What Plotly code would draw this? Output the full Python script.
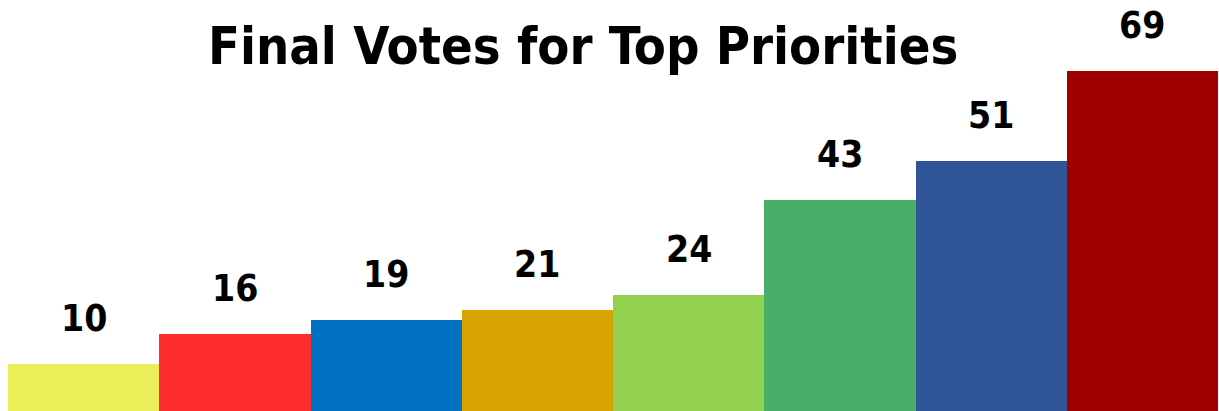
import plotly.graph_objects as go

categories = ["P1", "P2", "P3", "P4", "P5", "P6", "P7", "P8"]
votes = [10, 16, 19, 21, 24, 43, 51, 69]
colors = ["#EAEE58", "#FE2D2D", "#0070C0", "#D6A300", "#92D050", "#4BAE68", "#2F5597", "#A00000"]
title_text = "Final Votes for Top Priorities"

FONT = "DejaVu Sans Condensed, sans-serif"

fig = go.Figure()
fig.add_trace(go.Bar(
    x=categories, y=votes,
    marker=dict(color=colors, line=dict(width=0)),
    hoverinfo="skip",
))

for c, v in zip(categories, votes):
    fig.add_annotation(
        x=c, y=v, xref="x", yref="y",
        text=f"<b>{v}</b>", showarrow=False,
        yanchor="bottom", yshift=22,
        font=dict(family=FONT, size=37, color="#000000"),
    )

fig.add_annotation(
    x=579 / 1219, y=1.0, xref="paper", yref="paper",
    xanchor="center", yanchor="top", yshift=-14,
    text=f"<b>{title_text}</b>", showarrow=False,
    font=dict(family=FONT, size=52, color="#000000"),
)

fig.update_layout(
    width=1219, height=411,
    margin=dict(l=8, r=1, t=0, b=0),
    paper_bgcolor="white", plot_bgcolor="white",
    bargap=0, showlegend=False,
    xaxis=dict(visible=False, range=[-0.5, 7.5]),
    yaxis=dict(visible=False, range=[0.6, 83.3]),
)

fig.write_html("out.html", config={"displayModeBar": False})
